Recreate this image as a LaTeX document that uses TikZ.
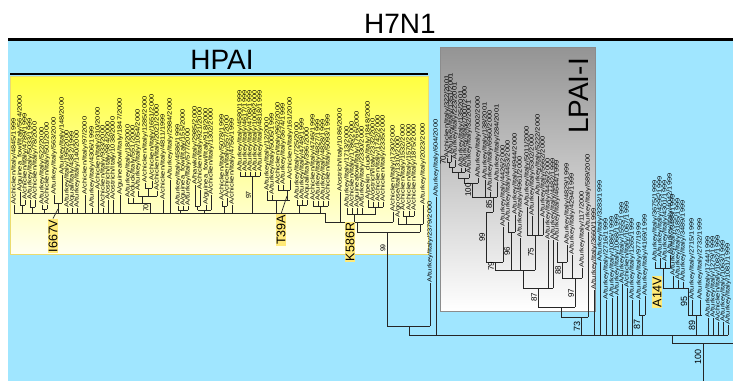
\documentclass[tikz,border=0pt]{standalone}
\usepackage{fontspec}
\usepackage{graphicx}
\setmainfont{Liberation Sans}

\definecolor{skyblue}{RGB}{160,230,255}
\definecolor{hpaiyellow}{RGB}{255,255,64}
\definecolor{hpaiedge}{RGB}{235,220,110}
\definecolor{mutyellow}{RGB}{255,234,120}
\newcommand{\lbl}[1]{\scalebox{1.25}[1]{#1}}

\tikzset{
  leaf/.style={rotate=90, anchor=west, inner sep=0.5pt, text=black, font=\fontsize{6}{6.5}\selectfont},
  boot/.style={rotate=90, inner sep=0pt, font=\fontsize{#1}{#1}\selectfont},
  boot/.default=7,
  mut/.style={rotate=90, fill=mutyellow, inner sep=1pt, font=\fontsize{12.5}{13}\selectfont},
  branch/.style={line width=0.7pt, draw=black!85},
  bigtitle/.style={font=\fontsize{28}{30}\selectfont}
}

\begin{document}
\begin{tikzpicture}[x=1pt, y=-1pt]
\useasboundingbox (0,0) rectangle (733,381);
% background panels
\fill[skyblue] (8,40) rectangle (733,381);
\shade[top color=hpaiyellow, middle color=hpaiyellow!85!white, bottom color=hpaiyellow!6!white] (10,76) rectangle (428,254);
\draw[hpaiedge] (10,76) rectangle (428,254);
\shade[top color=black!42, bottom color=white] (440,47) rectangle (595,311);
\draw[black!45] (440,47) rectangle (595,311);
\draw[line width=3pt] (8,39) -- (733,39);
\draw[line width=2.5pt] (10,74) -- (428,74);

% titles
\node[bigtitle, anchor=base] (h7n1) at (400,33) {H7N1};
\node[bigtitle, anchor=base] (hpai) at (222,69) {HPAI};
\node[bigtitle, rotate=90, anchor=base] (lpai) at (588,96) {LPAI-I};

% internal branches: x1 / x2 / y / stem x / stem end
\foreach \a/\b/\y/\s/\z in {
  14/325/213/325/222, 20/25/205/22.5/213, 30/35/207/32.5/213, 42/47/209/44.5/213,
  54/62/203/58/213, 128/150/203/150/213, 138/157/196/142/203, 145/152/188/148/196,
  178/188/210/180.5/213, 195/200/206/197.5/210, 197.5/211/210/204/213, 222/227/206/224.5/213,
  240/260/176/252.5/213, 267/290/200/276/213, 278/290/190/287/200, 297/307/205/299.5/213,
  313/328/206/320.5/213, 325/393/222/357/232, 347/376/214/354.5/222, 368/383/207/375.5/214,
  357/420/232/387/326, 398/423/224/420/232, 403/414/216/406/224, 387/430/326/409/335,
  447/451/162/449/167, 449/455/167/452/172, 452/465/172/458/178, 458/469/178/464/183,
  464/478/183/472/197, 472/497/197/493/212, 486/493/212/486/262, 486/503/262/495/270,
  508/515/232/511.5/270, 527/543/235/535/270, 495/535/270/523/288, 523/553/288/538/307,
  557/567/262/562/278, 562/582/278/575/307, 538/575/307/561/317, 561/588/317/581/335,
  409/728/335/672/343, 639/645/315/642/335, 655/670/268/663/288, 663/688/288/688/315,
  688/702/315/696/335, 672/733/343/703/381}
  \draw[branch] (\a,\y) -- (\b,\y) (\s,\y) -- (\s,\z);

% HPAI leaves: x / tip / parent / name
\foreach \x/\t/\p/\n [count=\i] in {
  14/205/213/{A/chicken/Italy/4845/1999}, 20/192/205/{A/guinea\_fowl/Italy/564/2000},
  25/200/205/{A/chicken/Italy/4789/1999}, 30/200/207/{A/turkey/Italy/5033/1999},
  35/200/207/{A/chicken/Italy/78/2000}, 42/205/209/{A/turkey/Italy/522/2000},
  47/205/209/{A/chicken/Italy/501/2000}, 54/195/203/{A/turkey/Italy/563/2000},
  62/175/203/{A/turkey/Italy/148/2000}, 67/208/213/{A/turkey/Italy/195/2000},
  72/208/213/{A/quail/Italy/4382/1999}, 77/208/213/{A/turkey/Italy/140/2000},
  85/195/213/{A/chicken/Italy/97/2000}, 92/208/213/{A/turkey/Italy/4306/1999},
  98/190/213/{A/chicken/Italy/310/2000}, 103/208/213/{A/chicken/Italy/933/2000},
  108/200/213/{A/ostrich/Italy/984/2000}, 113/200/213/{A/ostrich/Italy/1038/2000},
  120/195/213/{A/guineafowl/Italy/1847/2000}, 128/198/203/{A/turkey/Italy/18/2000},
  133/198/203/{A/duck/Italy/551/2000}, 138/191/196/{A/turkey/Italy/1054/2000},
  145/183/188/{A/chicken/Italy/1285/2000}, 152/181/188/{A/chicken/Italy/1651/2000},
  157/191/196/{A/chicken/Italy/2021/2000}, 163/200/213/{A/chicken/Italy/4811/1999},
  170/180/213/{A/turkey/Italy/2984/2000}, 178/206/210/{A/turkey/Italy/4586/1999},
  183/206/210/{A/guinea\_fowl/Italy/155/2000}, 188/206/210/{A/turkey/Italy/577/2000},
  195/185/206/{A/hawk/Italy/2985/2000}, 200/190/206/{A/chicken/Italy/921/2000},
  206/205/210/{A/guinea\_fowl/Italy/918/2000}, 211/195/210/{A/chicken/Italy/1302/2000},
  222/201/206/{A/chicken/Italy/5078/1999}, 227/198/206/{A/chicken/Italy/557/2000},
  232/205/213/{A/chicken/Italy/4756/1999}, 240/172/176/{A/turkey/Italy/4580/1999},
  245/172/176/{A/turkey/Italy/4617/1999}, 250/172/176/{A/turkey/Italy/4708/1999},
  255/172/176/{A/turkey/Italy/1009/2000}, 260/172/176/{A/turkey/Italy/4818/1999},
  267/191/200/{A/turkey/Italy/12/2000}, 272/195/200/{A/turkey/Italy/5005/1999},
  278/185/190/{A/chicken/Italy/962/2000}, 283/185/190/{A/turkey/Italy/3674/1999},
  290/180/190/{A/chicken/Italy/161/2000}, 297/200/205/{A/turkey/Italy/725/2000},
  302/200/205/{A/turkey/Italy/4749/1999}, 307/200/205/{A/quail/Italy/396/2000},
  313/201/206/{A/chicken/Italy/4746/1999}, 318/201/206/{A/turkey/Italy/4827/1999},
  323/201/206/{A/turkey/Italy/4828/1999}, 328/201/206/{A/chicken/Italy/5093/1999},
  340/192/222/{A/ostrich/Italy/1086/2000}, 347/208/214/{A/turkey/Italy/1713/2000},
  352/208/214/{A/chicken/Italy/1786/2000}, 357/208/214/{A/guineafowl/Italy/1766/2000},
  362/208/214/{A/turkey/Italy/2330/2000}, 368/200/207/{A/pekin\_duck/Italy/1848/2000},
  373/202/207/{A/ostrich/Italy/2332/2000}, 378/202/207/{A/chicken/Italy/1742/2000},
  383/202/207/{A/chicken/Italy/2335/2000}, 393/212/222/{A/chicken/Italy/1730/2000},
  398/218/224/{A/goose/Italy/1310/2000}, 403/211/216/{A/chicken/Italy/1532/2000},
  409/211/216/{A/chicken/Italy/1570/2000}, 414/211/216/{A/chicken/Italy/1875/2000},
  423/205/224/{A/turkey/Italy/2023/2000}, 430/283/326/{A/turkey/Italy/2379/2000},
  436/197/335/{A/turkey/Italy/604/2000}}
{
  \node[leaf] (h\i) at (\x,\t) {\lbl{\n}};
  \coordinate (hp\i) at (\x,\p);
  \draw[branch] (hp\i) -- (h\i.west);
}

% LPAI-I leaves
\foreach \x/\t/\p/\n [count=\i] in {
  447/158/162/{A/chicken/Italy/322/2001}, 451/155/162/{A/turkey/Italy/1351/2001},
  455/160/167/{A/turkey/Italy/223/2001}, 461/168/172/{A/turkey/Italy/135/2001},
  465/168/172/{A/turkey/Italy/7001/2000}, 469/174/178/{A/turkey/Italy/32/2001},
  478/178/183/{A/turkey/Italy/7002/2000}, 485/180/197/{A/turkey/Italy/138/2001},
  490/192/197/{A/turkey/Italy/6960/2000}, 497/182/197/{A/turkey/Italy/284/2001},
  503/227/262/{A/turkey/Italy/4426/2000}, 508/222/232/{A/turkey/Italy/4453/2000},
  515/215/232/{A/turkey/Italy/4944/2000}, 520/238/270/{A/turkey/Italy/4961/2000},
  527/207/235/{A/turkey/Italy/5011/2000}, 532/216/235/{A/turkey/Italy/5302/2000},
  538/196/235/{A/turkey/Italy/5222/2000}, 543/218/235/{A/turkey/Italy/5662/2000},
  548/240/288/{A/turkey/Italy/4436/2000}, 553/240/288/{A/turkey/Italy/4482/1999},
  557/242/262/{A/turkey/Italy/4644/1999}, 567/245/262/{A/turkey/Italy/4829/1999},
  572/255/278/{A/turkey/Italy/4294/1999}, 582/268/278/{A/turkey/Italy/117/2000},
  588/232/317/{A/turkey/Italy/589/2000}}
{
  \node[leaf] (l\i) at (\x,\t) {\lbl{\n}};
  \coordinate (lp\i) at (\x,\p);
  \draw[branch] (lp\i) -- (l\i.west);
}

% remaining 1999 leaves
\foreach \x/\t/\p/\n [count=\i] in {
  594/290/335/{A/turkey/Italy/3660/1999}, 600/262/335/{A/turkey/Italy/3283/1999},
  606/300/335/{A/turkey/Italy/2716/1999}, 612/298/335/{A/turkey/Italy/1086/1999},
  617/296/335/{A/turkey/Italy/1068/1999}, 622/284/335/{A/turkey/Italy/1555/1999},
  627/288/335/{A/chicken/Italy/1067/1999}, 632/300/335/{A/turkey/Italy/1265/1999},
  639/300/315/{A/turkey/Italy/977/1999}, 645/296/315/{A/turkey/Italy/4169/1999},
  655/262/268/{A/turkey/Italy/3675/1999}, 660/258/268/{A/turkey/Italy/4295/1999},
  665/262/268/{A/turkey/Italy/4301/1999}, 670/255/268/{A/turkey/Italy/4042/1999},
  673/276/288/{A/turkey/Italy/3488/1999}, 678/280/288/{A/turkey/Italy/3185/1999},
  683/282/288/{A/turkey/Italy/3489/1999}, 692/300/315/{A/turkey/Italy/2715/1999},
  700/300/315/{A/turkey/Italy/2732/1999}, 708/318/335/{A/turkey/Italy/1744/1999},
  713/318/335/{A/turkey/Italy/1279/1999}, 718/322/335/{A/chicken/Italy/1082/1999},
  723/322/335/{A/turkey/Italy/1063/1999}, 728/325/335/{A/turkey/Italy/1081/1999}}
{
  \node[leaf] (b\i) at (\x,\t) {\lbl{\n}};
  \coordinate (bp\i) at (\x,\p);
  \draw[branch] (bp\i) -- (b\i.west);
}

% bootstrap values
\foreach \x/\y/\v/\s [count=\k] in {
  146/208/70/7, 248.5/195/97/7, 383/248/99/7,
  443/160/70/8, 468/190/100/8, 489/204/85/8, 482/237/99/8, 491/266/79/8,
  507/251/96/8, 531/252/75/8, 534/297/87/8, 558/270/88/8, 571/293/97/8, 577/326/73/9,
  637/324/87/9, 684/301/95/9, 692/325/89/9, 698/357/100/9}
  \node[boot=\s] (bs\k) at (\x,\y) {\v};

% mutations
\node[mut] (i667v) at (53,236) {I667V};
\coordinate (i667vend) at (58,209);
\draw[branch] (i667v.east) -- (i667vend);
\node[mut] (t39a) at (281,230) {T39A};
\coordinate (t39aend) at (287,196);
\draw[branch] (t39a.east) -- (t39aend);
\node[mut] (k586r) at (350,242) {K586R};
\node[mut] (a14v) at (657,292) {A14V};
\end{tikzpicture}
\end{document}
